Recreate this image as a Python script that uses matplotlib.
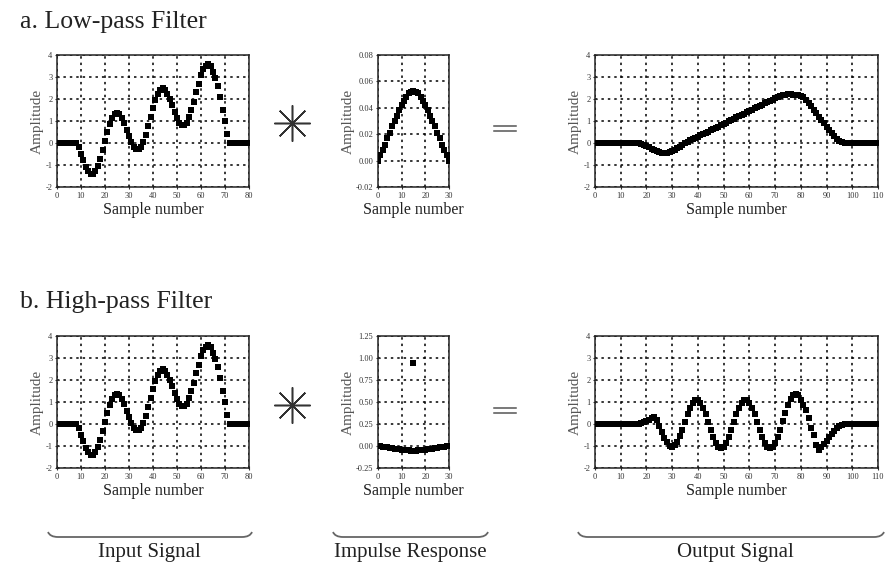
import numpy as np
import matplotlib
matplotlib.use("Agg")
import matplotlib.pyplot as plt
from matplotlib.path import Path
from matplotlib.patches import PathPatch
from matplotlib.ticker import FormatStrFormatter

plt.rcParams['font.family'] = ['Liberation Serif', 'DejaVu Serif']

# input signal, samples 0..80
input_signal = [0, 0, 0, 0, 0, 0, 0, 0, 0.0, -0.20, -0.49, -0.79, -1.07, -1.27, -1.39, -1.39,
                -1.27, -1.04, -0.72, -0.33, 0.09, 0.50, 0.86, 1.14, 1.32, 1.38, 1.32, 1.15,
                0.91, 0.61, 0.31, 0.04, -0.17, -0.29, -0.29, -0.17, 0.06, 0.38, 0.77, 1.19,
                1.60, 1.96, 2.24, 2.42, 2.48, 2.42, 2.25, 2.01, 1.72, 1.41, 1.14, 0.93, 0.82,
                0.81, 0.93, 1.16, 1.49, 1.88, 2.30, 2.70, 3.07, 3.35, 3.52, 3.58, 3.48, 3.25,
                2.95, 2.60, 2.10, 1.50, 1.00, 0.40, 0, 0, 0, 0, 0, 0, 0, 0, 0]

# low-pass impulse response, samples 0..30
lp_kernel = [0.000, 0.004, 0.008, 0.012, 0.017, 0.021, 0.026, 0.030, 0.034, 0.038, 0.042,
             0.045, 0.048, 0.051, 0.052, 0.053, 0.052, 0.051, 0.048, 0.045, 0.042, 0.038,
             0.034, 0.030, 0.026, 0.021, 0.017, 0.012, 0.008, 0.004, 0.000]

# high-pass impulse response, samples 0..30
hp_kernel = [0.000, -0.004, -0.008, -0.012, -0.017, -0.021, -0.026, -0.030, -0.034, -0.038,
             -0.042, -0.045, -0.048, -0.051, -0.052, 0.947, -0.052, -0.051, -0.048, -0.045,
             -0.042, -0.038, -0.034, -0.030, -0.026, -0.021, -0.017, -0.012, -0.008, -0.004,
             0.000]

# low-pass output, samples 0..110
lp_output = [0] * 17 + [
    -0.02, -0.05, -0.09, -0.14, -0.20, -0.26, -0.32, -0.37, -0.41, -0.44, -0.45, -0.44,
    -0.41, -0.36, -0.30, -0.23, -0.16, -0.08, 0.00, 0.06, 0.12, 0.17, 0.23, 0.29, 0.35,
    0.41, 0.46, 0.52, 0.58, 0.64, 0.70, 0.75, 0.81, 0.87, 0.93, 0.99, 1.04, 1.10, 1.16,
    1.22, 1.28, 1.33, 1.39, 1.45, 1.51, 1.57, 1.62, 1.68, 1.74, 1.80, 1.86, 1.91, 1.97,
    2.03, 2.09, 2.14, 2.18, 2.20, 2.21, 2.21, 2.20, 2.20, 2.18, 2.15, 2.07, 1.96, 1.83,
    1.68, 1.52, 1.36, 1.20, 1.05, 0.90, 0.75, 0.60, 0.45, 0.32, 0.20, 0.11, 0.05, 0.02,
    0.00] + [0] * 12

# high-pass output, samples 0..110
hp_output = [0] * 17 + [
    0.02, 0.05, 0.09, 0.14, 0.20, 0.26, 0.32, 0.17, -0.08, -0.35, -0.62, -0.83, -0.98,
    -1.03, -0.97, -0.81, -0.56, -0.25, 0.09, 0.44, 0.74, 0.97, 1.09, 1.09, 0.97, 0.74,
    0.45, 0.09, -0.27, -0.60, -0.87, -1.04, -1.10, -1.04, -0.87, -0.61, -0.27, 0.09, 0.44,
    0.74, 0.96, 1.09, 1.09, 0.97, 0.74, 0.44, 0.10, -0.27, -0.60, -0.87, -1.04, -1.10,
    -1.04, -0.87, -0.60, -0.26, 0.12, 0.50, 0.86, 1.14, 1.32, 1.38, 1.30, 1.10, 0.88,
    0.64, 0.27, -0.18, -0.52, -0.96, -1.20, -1.05, -0.90, -0.75, -0.60, -0.45, -0.32,
    -0.20, -0.11, -0.05, -0.02, 0.00] + [0] * 12

fig = plt.figure(figsize=(8.87, 5.62), dpi=100)
W, H = 887, 562


def make_ax(x0, x1, y0, y1):
    return fig.add_axes([x0 / W, 1 - y1 / H, (x1 - x0) / W, (y1 - y0) / H])


def style(ax, xmax, xstep, ylo, yhi, ystep, fmt):
    ax.set_xlim(0, xmax)
    ax.set_ylim(ylo, yhi)
    ax.set_xticks(np.arange(0, xmax + 0.5 * xstep, xstep))
    ax.set_yticks(np.arange(ylo, yhi + 0.5 * ystep, ystep))
    ax.yaxis.set_major_formatter(FormatStrFormatter(fmt))
    ax.grid(True, color='black', linestyle=(0, (1.6, 2.6)), linewidth=1.1)
    ax.tick_params(direction='inout', length=3.5, width=0.8, labelsize=6, pad=1.5,
                   colors='#333333')
    for s in ax.spines.values():
        s.set_linewidth(1.1)
        s.set_color('#222222')
    ax.set_xlabel('Sample number', fontsize=11.5, labelpad=2, color='#222222')
    ax.set_ylabel('Amplitude', fontsize=11, labelpad=1, color='#555555')


def dots(ax, vals):
    ax.plot(np.arange(len(vals)), vals, 's', color='black', markersize=3.7,
            markeredgewidth=0, zorder=3)


rows = [(55, 187, lp_kernel, lp_output, -0.02, 0.08, 0.02, '%.2f'),
        (336, 468, hp_kernel, hp_output, -0.25, 1.25, 0.25, '%.2f')]

for y0, y1, kern, out, klo, khi, kstep, kfmt in rows:
    ax1 = make_ax(57, 249, y0, y1)
    dots(ax1, input_signal)
    style(ax1, 80, 10, -2, 4, 1, '%d')

    ax2 = make_ax(378, 449, y0, y1)
    dots(ax2, kern)
    style(ax2, 30, 10, klo, khi, kstep, kfmt)

    ax3 = make_ax(595, 878, y0, y1)
    dots(ax3, out)
    style(ax3, 110, 10, -2, 4, 1, '%d')

# overlay in pixel coordinates for symbols, titles and braces
ov = fig.add_axes([0, 0, 1, 1], zorder=-1)
ov.set_xlim(0, W)
ov.set_ylim(H, 0)
ov.axis('off')

ov.text(20, 28, 'a. Low-pass Filter', fontsize=18.5, color='#222222', va='baseline')
ov.text(20, 308, 'b. High-pass Filter', fontsize=18.5, color='#222222', va='baseline')

for yc in (123, 405):
    ov.plot([292], [yc], marker=(8, 2, 0), markersize=26, color='#333333', mew=1.1)
    ov.plot([494, 516], [yc + 3, yc + 3], color='#555555', lw=1.1)
    ov.plot([494, 516], [yc + 8, yc + 8], color='#555555', lw=1.1)


def brace(x0, x1, y):
    verts = [(x0, y - 5), (x0 + 2, y), (x0 + 10, y), (x1 - 10, y), (x1 - 2, y), (x1, y - 5)]
    codes = [Path.MOVETO, Path.CURVE3, Path.CURVE3, Path.LINETO, Path.CURVE3, Path.CURVE3]
    ov.add_patch(PathPatch(Path(verts, codes), fill=False, edgecolor='#666666', lw=1.3))


brace(48, 252, 537)
brace(333, 488, 537)
brace(578, 884, 537)

ov.text(149, 553, 'Input Signal', fontsize=15, ha='center', va='center', color='#222222')
ov.text(410, 553, 'Impulse Response', fontsize=15, ha='center', va='center', color='#222222')
ov.text(735, 553, 'Output Signal', fontsize=15, ha='center', va='center', color='#222222')

fig.savefig('out.png', dpi=100, facecolor='white')
